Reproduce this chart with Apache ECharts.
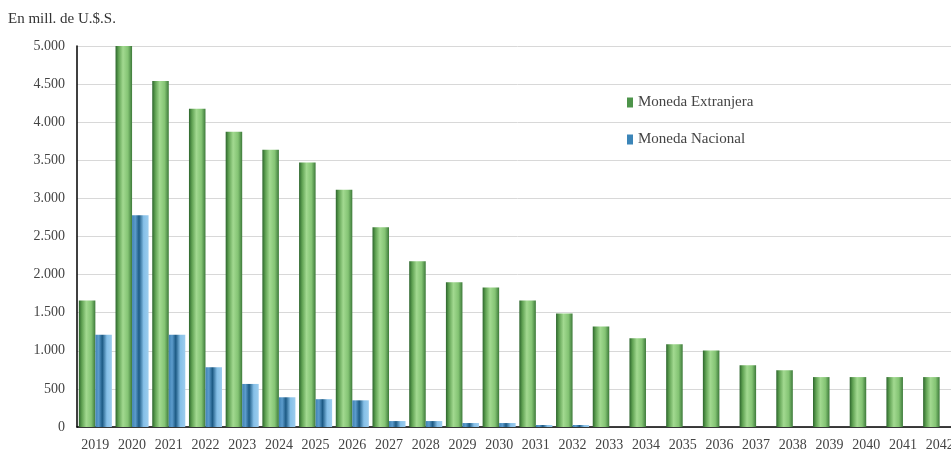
<!DOCTYPE html>
<html>
<head>
<meta charset="utf-8">
<script src="https://cdn.jsdelivr.net/npm/echarts@6/dist/echarts.min.js"></script>
<style>html,body{margin:0;padding:0;background:#fff;overflow:hidden}#c{width:958px;height:452px}</style>
</head>
<body>
<div id="c"></div>
<script>
const categories = ['2019','2020','2021','2022','2023','2024','2025','2026','2027','2028','2029','2030','2031','2032','2033','2034','2035','2036','2037','2038','2039','2040','2041','2042'];
const monedaExtranjera = [1660,5020,4540,4175,3875,3640,3470,3115,2620,2175,1900,1830,1660,1490,1320,1165,1085,1005,810,745,655,655,655,655];
const monedaNacional = [1210,2780,1210,785,565,390,365,350,78,78,52,52,26,26,0,0,0,0,0,0,0,0,0,0];
const yTicks = ['0','500','1.000','1.500','2.000','2.500','3.000','3.500','4.000','4.500','5.000'];

const serif = '"Liberation Serif", "DejaVu Serif", serif';
const greenGrad = new echarts.graphic.LinearGradient(0,0,1,0,[
  {offset:0,color:'#2c652c'},{offset:0.18,color:'#5fa152'},{offset:0.45,color:'#a2d990'},
  {offset:0.75,color:'#84c474'},{offset:1,color:'#3d7a3a'}]);
const blueGrad = new echarts.graphic.LinearGradient(0,0,1,0,[
  {offset:0,color:'#3f82b4'},{offset:0.2,color:'#5c9ccc'},{offset:0.42,color:'#1c5a84'},
  {offset:0.7,color:'#86c0e8'},{offset:1,color:'#9ccdee'}]);

const chart = echarts.init(document.getElementById('c'), null, {renderer:'canvas'});
chart.setOption({
  animation:false,
  backgroundColor:'#fff',
  graphic:[{type:'text',left:8,top:12,style:{text:'En mill. de U.$.S.',font:'15px '+serif,fill:'#333'}}],
  legend:{
    orient:'vertical', left:622, top:90, itemGap:22, itemWidth:6, itemHeight:10,
    icon:'rect',
    textStyle:{fontFamily:serif,fontSize:15,color:'#444'},
    data:[{name:'Moneda Extranjera',itemStyle:{color:'#4d944a'}},{name:'Moneda Nacional',itemStyle:{color:'#3b85b8'}}]
  },
  grid:{left:77,top:46,bottom:24,right:0,containLabel:false},
  xAxis:{
    type:'category', data:categories,
    axisLine:{lineStyle:{color:'#000',width:1.5}},
    axisTick:{show:false},
    axisLabel:{fontFamily:serif,fontSize:14,color:'#444',margin:11}
  },
  yAxis:{
    type:'value', min:0, max:5000, interval:500,
    axisLine:{show:true,lineStyle:{color:'#000',width:1.5}},
    axisTick:{show:false},
    splitLine:{lineStyle:{color:'#d8d8d8'}},
    axisLabel:{fontFamily:serif,fontSize:14,color:'#444',margin:12,
      formatter:(v)=>yTicks[Math.round(v/500)]}
  },
  series:[
    {name:'Moneda Extranjera',type:'bar',data:monedaExtranjera,barGap:'0%',barCategoryGap:'10%',
      itemStyle:{color:greenGrad}},
    {name:'Moneda Nacional',type:'bar',data:monedaNacional,barGap:'0%',barCategoryGap:'10%',
      itemStyle:{color:blueGrad}}
  ]
});
</script>
</body>
</html>
